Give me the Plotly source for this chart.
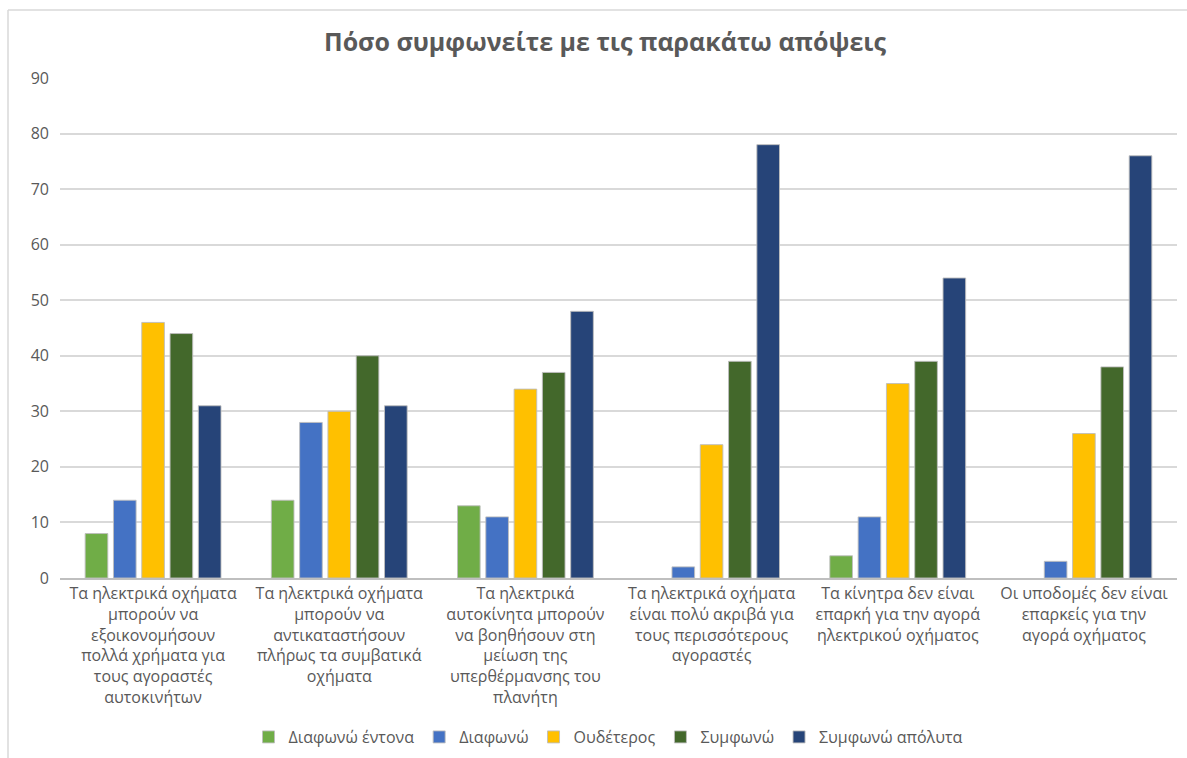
import plotly.graph_objects as go

categories = [
    "Τα ηλεκτρικά οχήματα<br>μπορούν να<br>εξοικονομήσουν<br>πολλά χρήματα για<br>τους αγοραστές<br>αυτοκινήτων",
    "Τα ηλεκτρικά οχήματα<br>μπορούν να<br>αντικαταστήσουν<br>πλήρως τα συμβατικά<br>οχήματα",
    "Τα ηλεκτρικά<br>αυτοκίνητα μπορούν<br>να βοηθήσουν στη<br>μείωση της<br>υπερθέρμανσης του<br>πλανήτη",
    "Τα ηλεκτρικά οχήματα<br>είναι πολύ ακριβά για<br>τους περισσότερους<br>αγοραστές",
    "Τα κίνητρα δεν είναι<br>επαρκή για την αγορά<br>ηλεκτρικού οχήματος",
    "Οι υποδομές δεν είναι<br>επαρκείς για την<br>αγορά οχήματος",
]

series_names = ["Διαφωνώ έντονα", "Διαφωνώ", "Ουδέτερος", "Συμφωνώ", "Συμφωνώ απόλυτα"]
diafono_entona = [8, 14, 13, 0, 4, 0]
diafono = [14, 28, 11, 2, 11, 3]
oudeteros = [46, 30, 34, 24, 35, 26]
symfono = [44, 40, 37, 39, 39, 38]
symfono_apolyta = [31, 31, 48, 78, 54, 76]
series_values = [diafono_entona, diafono, oudeteros, symfono, symfono_apolyta]
colors = ["#70AD47", "#4472C4", "#FFC000", "#43682B", "#264478"]

y_ticks = [0, 10, 20, 30, 40, 50, 60, 70, 80, 90]

FONT = "Open Sans"
TXT = "#595959"

fig = go.Figure()
for name, vals, col in zip(series_names, series_values, colors):
    fig.add_trace(go.Bar(
        x=categories, y=vals, name=name,
        marker=dict(color=col,
                    line=dict(color="rgba(190,190,190,0.9)",
                              width=[1 if v > 0 else 0 for v in vals])),
    ))

W, H = 1187, 758
L, R, T, B = 60, 10, 78, 180
pw, ph = W - L - R, H - T - B

def px_x(x):
    return (x - L) / pw

def px_y(y):
    return (H - B - y) / ph

fig.update_layout(
    width=W, height=H,
    margin=dict(l=L, r=R, t=T, b=B, autoexpand=False),
    paper_bgcolor="white", plot_bgcolor="white",
    font=dict(family=FONT, color=TXT, size=16),
    title=dict(text="<b>Πόσο συμφωνείτε με τις παρακάτω απόψεις</b>",
               x=px_x(605), xref="paper", xanchor="center",
               y=1 - 42 / H, yanchor="middle",
               font=dict(family=FONT, size=25, color=TXT)),
    barmode="group", bargap=0.24, bargroupgap=0.2,
    showlegend=True,
    legend=dict(orientation="h", x=px_x(608), xanchor="center",
                y=px_y(737), yanchor="middle",
                font=dict(family=FONT, size=16, color=TXT),
                itemwidth=30, traceorder="normal"),
    xaxis=dict(showgrid=False, ticks="", showline=True, linecolor="#BFBFBF",
               linewidth=1.5, automargin=False,
               tickfont=dict(family=FONT, size=16, color=TXT)),
    yaxis=dict(range=[0, 90], tickvals=y_ticks, showgrid=True, gridcolor="#D9D9D9",
               gridwidth=1.5, zeroline=False, showline=False, ticks="",
               automargin=False,
               ticklabelstandoff=10, tickfont=dict(family=FONT, size=16, color=TXT)),
    shapes=[
        dict(type="line", xref="paper", yref="paper",
             x0=px_x(8), x1=px_x(8), y0=px_y(10), y1=px_y(758),
             line=dict(color="#D9D9D9", width=1.5)),
        dict(type="line", xref="paper", yref="paper",
             x0=px_x(8), x1=px_x(1187), y0=px_y(10), y1=px_y(10),
             line=dict(color="#D9D9D9", width=1.5)),
    ],
)

fig.write_html("out.html")
